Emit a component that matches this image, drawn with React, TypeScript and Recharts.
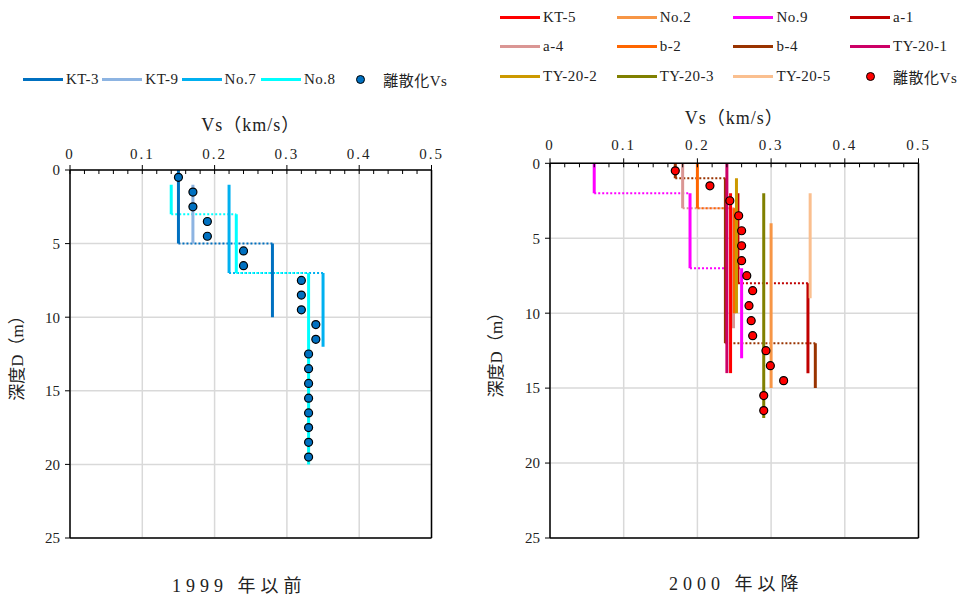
import React from 'react';
import { CartesianGrid, ComposedChart, Line, ReferenceLine, Scatter, XAxis, YAxis } from 'recharts';

const FONT = '"Liberation Serif", "Noto Sans CJK JP", serif';
const TEXT = '#222';

// axes
const xTicks = [0, 0.1, 0.2, 0.3, 0.4, 0.5];
const minorTicks = [
  0, 0.02, 0.04, 0.06, 0.08, 0.1, 0.12, 0.14, 0.16, 0.18, 0.2, 0.22, 0.24, 0.26, 0.28, 0.3, 0.32, 0.34,
  0.36, 0.38, 0.4, 0.42, 0.44, 0.46, 0.48, 0.5,
];
const yTicks = [0, 5, 10, 15, 20, 25];

// ---- 1999 年以前 ----
const kt3Vs = [0.15, 0.28];
const kt3Top = [0, 5];
const kt3Bottom = [5, 10];

const kt9Vs = [0.17];
const kt9Top = [1];
const kt9Bottom = [5];

const no7Vs = [0.22, 0.35];
const no7Top = [1, 7];
const no7Bottom = [7, 12];

const no8Vs = [0.14, 0.23, 0.33];
const no8Top = [1, 3, 7];
const no8Bottom = [3, 7, 20];

const leftDepths = [0.5, 1.5, 2.5, 3.5, 4.5, 5.5, 6.5, 7.5, 8.5, 9.5, 10.5, 11.5, 12.5, 13.5, 14.5, 15.5, 16.5, 17.5, 18.5, 19.5];
const leftVs = [0.15, 0.17, 0.17, 0.19, 0.19, 0.24, 0.24, 0.32, 0.32, 0.32, 0.34, 0.34, 0.33, 0.33, 0.33, 0.33, 0.33, 0.33, 0.33, 0.33];

// ---- 2000 年以降 ----
const kt5Vs = [0.245];
const kt5Top = [2];
const kt5Bottom = [14];

const no2Vs = [0.3];
const no2Top = [4];
const no2Bottom = [15];

const no9Vs = [0.06, 0.19, 0.26];
const no9Top = [0, 2, 7];
const no9Bottom = [2, 7, 13];

const a1Vs = [0.255, 0.35];
const a1Top = [2, 8];
const a1Bottom = [8, 14];

const a4Vs = [0.18, 0.249];
const a4Top = [0, 3];
const a4Bottom = [3, 11];

const b2Vs = [0.2, 0.25];
const b2Top = [0, 3];
const b2Bottom = [3, 10];

const b4Vs = [0.17, 0.238, 0.36];
const b4Top = [0, 1, 12];
const b4Bottom = [1, 12, 15];

const ty1Vs = [0.24];
const ty1Top = [0];
const ty1Bottom = [14];

const ty2Vs = [0.253];
const ty2Top = [1];
const ty2Bottom = [10];

const ty3Vs = [0.29];
const ty3Top = [2];
const ty3Bottom = [17];

const ty5Vs = [0.353];
const ty5Top = [2];
const ty5Bottom = [9];

const rightDepths = [0.5, 1.5, 2.5, 3.5, 4.5, 5.5, 6.5, 7.5, 8.5, 9.5, 10.5, 11.5, 12.5, 13.5, 14.5, 15.5, 16.5];
const rightVs = [0.17, 0.217, 0.244, 0.256, 0.26, 0.26, 0.26, 0.267, 0.275, 0.27, 0.273, 0.275, 0.293, 0.299, 0.317, 0.29, 0.29];

type Profile = { name: string; color: string; vs: number[]; top: number[]; bottom: number[] };

const leftProfiles: Profile[] = [
  { name: 'KT-3', color: '#0070C0', vs: kt3Vs, top: kt3Top, bottom: kt3Bottom },
  { name: 'KT-9', color: '#8DB4E2', vs: kt9Vs, top: kt9Top, bottom: kt9Bottom },
  { name: 'No.7', color: '#00B0F0', vs: no7Vs, top: no7Top, bottom: no7Bottom },
  { name: 'No.8', color: '#00FFFF', vs: no8Vs, top: no8Top, bottom: no8Bottom },
];

const rightProfiles: Profile[] = [
  { name: 'KT-5', color: '#FF0000', vs: kt5Vs, top: kt5Top, bottom: kt5Bottom },
  { name: 'No.2', color: '#F79646', vs: no2Vs, top: no2Top, bottom: no2Bottom },
  { name: 'No.9', color: '#FF00FF', vs: no9Vs, top: no9Top, bottom: no9Bottom },
  { name: 'a-1', color: '#C00000', vs: a1Vs, top: a1Top, bottom: a1Bottom },
  { name: 'a-4', color: '#DA9694', vs: a4Vs, top: a4Top, bottom: a4Bottom },
  { name: 'b-2', color: '#FF6600', vs: b2Vs, top: b2Top, bottom: b2Bottom },
  { name: 'b-4', color: '#993300', vs: b4Vs, top: b4Top, bottom: b4Bottom },
  { name: 'TY-20-1', color: '#CC0066', vs: ty1Vs, top: ty1Top, bottom: ty1Bottom },
  { name: 'TY-20-2', color: '#CC9900', vs: ty2Vs, top: ty2Top, bottom: ty2Bottom },
  { name: 'TY-20-3', color: '#808000', vs: ty3Vs, top: ty3Top, bottom: ty3Bottom },
  { name: 'TY-20-5', color: '#FABF8F', vs: ty5Vs, top: ty5Top, bottom: ty5Bottom },
];

type Pt = { vs: number; d: number | null };

// solid vertical pieces, one per layer, split by null gaps
function layerData(p: Profile): Pt[] {
  const out: Pt[] = [];
  p.vs.forEach((v, i) => {
    out.push({ vs: v, d: p.top[i] }, { vs: v, d: p.bottom[i] }, { vs: v, d: null });
  });
  return out;
}

// dotted horizontal jumps between layers
function stepData(p: Profile): Pt[] {
  const out: Pt[] = [];
  for (let i = 0; i < p.vs.length - 1; i++) {
    out.push({ vs: p.vs[i], d: p.bottom[i] }, { vs: p.vs[i + 1], d: p.bottom[i] }, { vs: p.vs[i + 1], d: null });
  }
  return out;
}

const fmt = (v: number) => (v === 0 ? '0' : v.toFixed(1));
const isMajor = (v: number) => Math.abs(v * 10 - Math.round(v * 10)) < 1e-6;

const TICK_SIZE = 5;

// top axis tick: minor marks point into the plot, majors cross the axis and carry a label
const TopTick = (props: any) => {
  const { x, y, payload, gap } = props;
  const v = payload.value as number;
  const axisY = y + TICK_SIZE + gap;
  const major = isMajor(v);
  return (
    <g>
      <line x1={x} x2={x} y1={axisY} y2={axisY + 4} stroke="#000" strokeWidth={1} />
      {major && <line x1={x} x2={x} y1={axisY - TICK_SIZE} y2={axisY} stroke="#000" strokeWidth={1} />}
      {major && (
        <text x={x} y={y} textAnchor="middle" fontSize={15} fontFamily={FONT} fill={TEXT} letterSpacing={2}>
          {fmt(v)}
        </text>
      )}
    </g>
  );
};

const YLabel = (props: any) => {
  const vb = props.viewBox || {};
  const cx = vb.x + 7;
  const cy = vb.y + vb.height / 2;
  return (
    <text
      x={cx}
      y={cy}
      transform={`rotate(-90 ${cx} ${cy})`}
      textAnchor="middle"
      dominantBaseline="central"
      fontSize={17}
      fontFamily={FONT}
      fill={TEXT}
    >
      深度D（m）
    </text>
  );
};

function DepthChart({
  profiles,
  depths,
  vsValues,
  dotColor,
  width,
  height,
  margin,
  tickGap,
}: {
  profiles: Profile[];
  depths: number[];
  vsValues: number[];
  dotColor: string;
  width: number;
  height: number;
  margin: { top: number; right: number; bottom: number; left: number };
  tickGap: number;
}) {
  const points = depths.map((d, i) => ({ vs: vsValues[i], d }));
  return (
    <ComposedChart width={width} height={height} margin={margin}>
      <CartesianGrid stroke="#D9D9D9" strokeWidth={1.5} verticalValues={xTicks} horizontalValues={yTicks} />
      <XAxis
        type="number"
        dataKey="vs"
        orientation="top"
        domain={[0, 0.5]}
        ticks={minorTicks}
        interval={0}
        height={30}
        tickSize={TICK_SIZE}
        tickMargin={tickGap}
        tick={<TopTick gap={tickGap} />}
        tickLine={false}
        axisLine={{ stroke: '#000', strokeWidth: 1.5 }}
        allowDataOverflow
        label={{ value: 'Vs（km/s）', position: 'top', offset: 9, fontSize: 18, letterSpacing: 1, fontFamily: FONT, fill: TEXT }}
      />
      <YAxis
        type="number"
        dataKey="d"
        reversed
        domain={[0, 25]}
        ticks={yTicks}
        width={60}
        tickSize={5}
        tickMargin={5}
        tick={{ fontSize: 15, fill: TEXT, fontFamily: FONT }}
        axisLine={{ stroke: '#000', strokeWidth: 1.5 }}
        tickLine={{ stroke: '#000' }}
        allowDataOverflow
        label={<YLabel />}
      />
      <ReferenceLine x={0.5} stroke="#000" strokeWidth={1.5} />
      <ReferenceLine y={25} stroke="#000" strokeWidth={1.5} />
      {profiles.map((p) => (
        <Line
          key={p.name + '-step'}
          data={stepData(p)}
          dataKey="d"
          stroke={p.color}
          strokeWidth={2}
          strokeDasharray="2 2"
          dot={false}
          activeDot={false}
          legendType="none"
          isAnimationActive={false}
        />
      ))}
      {profiles.map((p) => (
        <Line
          key={p.name}
          name={p.name}
          data={layerData(p)}
          dataKey="d"
          stroke={p.color}
          strokeWidth={3}
          dot={false}
          activeDot={false}
          isAnimationActive={false}
        />
      ))}
      <Scatter
        name="離散化Vs"
        data={points}
        isAnimationActive={false}
        shape={(s: any) => <circle cx={s.cx} cy={s.cy} r={4} fill={dotColor} stroke="#000" strokeWidth={1.2} />}
      />
    </ComposedChart>
  );
}

function LegendBlock({
  profiles,
  dotColor,
  x,
  y,
  itemWidth,
  columns,
  rowHeight,
}: {
  profiles: Profile[];
  dotColor: string;
  x: number;
  y: number;
  itemWidth: number;
  columns: number;
  rowHeight: number;
}) {
  const items = [...profiles.map((p) => ({ name: p.name, color: p.color, dot: false })), { name: '離散化Vs', color: dotColor, dot: true }];
  return (
    <>
      {items.map((it, i) => (
        <div
          key={it.name}
          style={{
            position: 'absolute',
            left: x + (i % columns) * itemWidth,
            top: y + Math.floor(i / columns) * rowHeight - 10,
            height: 20,
            display: 'flex',
            alignItems: 'center',
            whiteSpace: 'nowrap',
            fontFamily: FONT,
            fontSize: 15,
            letterSpacing: 0.5,
            color: TEXT,
          }}
        >
          <div style={{ width: 40, height: 20, display: 'flex', alignItems: 'center', justifyContent: 'center' }}>
            {it.dot ? (
              <div style={{ width: 7, height: 7, borderRadius: '50%', background: it.color, border: '1px solid #000' }} />
            ) : (
              <div style={{ width: 40, height: 3, background: it.color }} />
            )}
          </div>
          <span style={{ marginLeft: 3 }}>{it.name}</span>
        </div>
      ))}
    </>
  );
}

export default function App() {
  return (
    <div style={{ position: 'absolute', left: 0, top: 0, width: 963, height: 599, background: '#fff', overflow: 'hidden' }}>
      <LegendBlock profiles={leftProfiles} dotColor="#0070C0" x={23} y={79} itemWidth={79.3} columns={5} rowHeight={30} />
      <LegendBlock profiles={rightProfiles} dotColor="#FF0000" x={500} y={17} itemWidth={116.7} columns={4} rowHeight={29.5} />
      <div style={{ position: 'absolute', left: 0, top: 0 }}>
        <DepthChart
          profiles={leftProfiles}
          depths={leftDepths}
          vsValues={leftVs}
          dotColor="#0070C0"
          width={470}
          height={560}
          margin={{ top: 140, right: 38.5, bottom: 22, left: 10 }}
          tickGap={6}
        />
      </div>
      <div style={{ position: 'absolute', left: 480, top: 0 }}>
        <DepthChart
          profiles={rightProfiles}
          depths={rightDepths}
          vsValues={rightVs}
          dotColor="#FF0000"
          width={480}
          height={560}
          margin={{ top: 133.3, right: 41.5, bottom: 22, left: 10 }}
          tickGap={8}
        />
      </div>
      <div style={{ position: 'absolute', left: 172, top: 571, fontFamily: FONT, fontSize: 18, letterSpacing: 5, color: TEXT, whiteSpace: 'nowrap' }}>
        1999 年以前
      </div>
      <div style={{ position: 'absolute', left: 669, top: 569, fontFamily: FONT, fontSize: 18, letterSpacing: 5, color: TEXT, whiteSpace: 'nowrap' }}>
        2000 年以降
      </div>
    </div>
  );
}
